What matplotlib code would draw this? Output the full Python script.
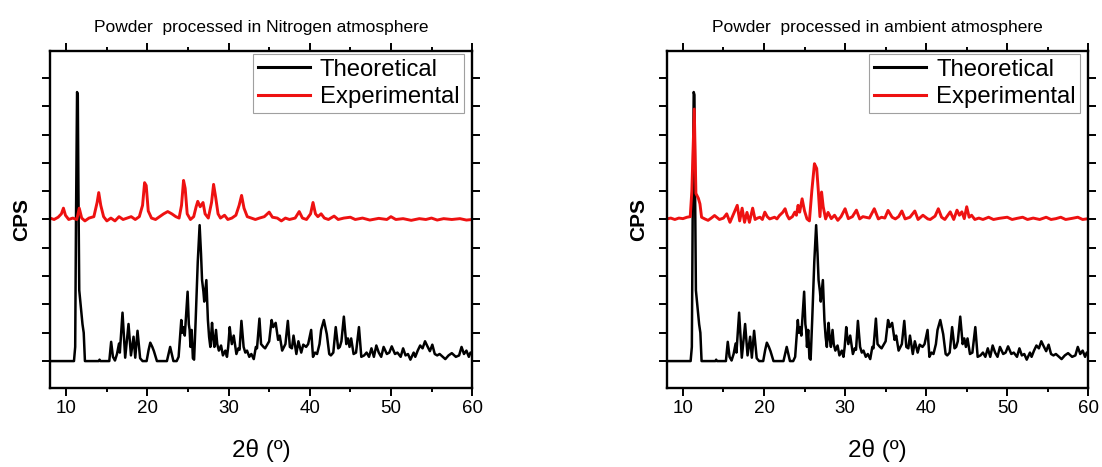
import matplotlib
matplotlib.use("Agg")
import matplotlib.pyplot as plt
import numpy as np
from matplotlib.ticker import MultipleLocator

plt.rcParams["font.family"] = ["Liberation Sans", "DejaVu Sans"]

# theoretical pattern (same in both panels), vertices
theo_x = [8.0, 10.95, 11.1, 11.2, 11.33, 11.42, 11.5, 11.6, 11.8, 12.0, 12.15, 12.3,
          14.0, 14.1, 14.2, 15.3, 15.53, 15.75, 16.0, 16.25, 16.5, 16.6, 16.93, 17.26,
          17.67, 17.97, 18.29, 18.5, 18.78, 19.1, 19.4, 19.9, 20.15, 20.35, 20.6, 20.8,
          21.17, 22.4, 22.8, 23.2, 23.6, 23.84, 24.17, 24.3, 24.46, 24.6, 24.95, 25.1,
          25.2, 25.3, 25.45, 25.6, 25.75, 25.95, 26.2, 26.43, 26.6, 26.73, 26.9, 27.0,
          27.26, 27.45, 27.6, 27.75, 27.96, 28.1, 28.25, 28.45, 28.6, 28.8, 29.07, 29.3,
          29.6, 29.8, 29.95, 30.14, 30.25, 30.4, 30.63, 30.96, 31.2, 31.35, 31.58, 31.85,
          32.06, 32.27, 32.55, 32.8, 33.1, 33.36, 33.5, 33.8, 34.0, 34.3, 34.5, 34.7,
          35.0, 35.3, 35.5, 35.8, 36.1, 36.3, 36.6, 37.0, 37.3, 37.55, 37.8, 38.0,
          38.35, 38.6, 38.95, 39.2, 39.55, 39.8, 40.17, 40.4, 40.65, 40.9, 41.2, 41.4,
          41.74, 42.1, 42.4, 42.6, 42.9, 43.2, 43.5, 43.7, 43.9, 44.2, 44.5, 44.7,
          44.9, 45.1, 45.4, 45.7, 46.06, 46.35, 46.7, 47.0, 47.3, 47.6, 47.9, 48.2,
          48.5, 48.8, 49.1, 49.5, 49.8, 50.1, 50.5, 50.8, 51.2, 51.5, 51.8, 52.1,
          52.4, 52.8, 53.0, 53.3, 53.6, 53.9, 54.2, 54.5, 54.8, 55.1, 55.4, 55.7,
          56.0, 56.4, 56.7, 57.1, 57.5, 58.0, 58.4, 58.7, 59.0, 59.3, 59.6, 59.8, 60.0]
theo_y = [0.0, 0.0, 0.5, 5.0, 9.5, 9.4, 6.0, 2.5, 1.9, 1.3, 1.0, 0.0,
          0.0, 0.05, 0.0, 0.0, 0.68, 0.15, 0.02, 0.25, 0.62, 0.3, 1.71, 0.12,
          1.31, 0.2, 0.86, 0.12, 1.07, 0.1, 0.0, 0.0, 0.4, 0.65, 0.5, 0.35,
          0.0, 0.0, 0.5, 0.0, 0.0, 0.15, 1.45, 1.0, 1.2, 0.9, 2.45, 1.3,
          1.1, 0.5, 1.1, 0.1, 0.05, 1.5, 3.5, 4.8, 3.8, 2.86, 2.45, 2.1,
          2.86, 1.45, 0.85, 0.5, 1.35, 0.8, 0.5, 1.1, 0.6, 0.37, 0.55, 0.2,
          0.37, 0.15, 0.5, 1.2, 0.9, 0.6, 0.9, 0.25, 0.45, 0.4, 1.42, 0.5,
          0.3, 0.37, 0.15, 0.25, 0.07, 0.5, 0.45, 1.5, 0.6, 0.5, 0.45, 0.55,
          0.7, 1.45, 1.2, 1.35, 0.75, 0.9, 0.37, 0.6, 1.42, 0.5, 0.45, 0.9,
          0.25, 0.7, 0.3, 0.58, 0.5, 0.6, 1.1, 0.15, 0.3, 0.25, 0.6, 1.1,
          1.45, 0.95, 0.25, 0.2, 0.3, 1.2, 0.45, 0.5, 0.7, 1.57, 0.6, 0.8,
          0.5, 0.8, 0.25, 0.3, 1.2, 0.15, 0.2, 0.3, 0.15, 0.45, 0.15, 0.55,
          0.3, 0.15, 0.5, 0.25, 0.3, 0.52, 0.25, 0.3, 0.15, 0.45, 0.2, 0.25,
          0.05, 0.3, 0.15, 0.37, 0.55, 0.45, 0.7, 0.52, 0.35, 0.58, 0.25, 0.2,
          0.25, 0.15, 0.07, 0.2, 0.28, 0.15, 0.2, 0.5, 0.25, 0.37, 0.15, 0.3, 0.3]

# experimental, nitrogen atmosphere (height above its baseline)
exp_n2_x = [8.0, 8.5, 9.0, 9.4, 9.65, 9.9, 10.3, 10.8, 11.3, 11.6, 11.9, 12.3, 12.8,
            13.4, 13.8, 14.0, 14.25, 14.6, 15.0, 15.5, 16.0, 16.5, 17.0, 17.5, 18.0,
            18.5, 19.0, 19.4, 19.65, 19.85, 20.1, 20.5, 21.0, 21.5, 22.0, 22.5, 23.0,
            23.5, 23.9, 24.2, 24.45, 24.65, 24.9, 25.3, 25.7, 26.0, 26.2, 26.5, 26.85,
            27.1, 27.5, 27.9, 28.15, 28.4, 28.7, 29.0, 29.5, 29.9, 30.4, 30.9, 31.3,
            31.6, 31.9, 32.3, 32.8, 33.3, 33.8, 34.4, 35.0, 35.4, 36.0, 36.5, 37.0,
            37.5, 38.2, 38.7, 39.1, 39.6, 40.1, 40.4, 40.7, 41.0, 41.4, 41.8, 42.3,
            43.0, 43.5, 44.2, 45.0, 45.6, 46.5, 47.4, 48.5, 49.5, 50.0, 50.6, 51.5,
            52.5, 53.5, 54.3, 55.0, 55.7, 56.5, 57.5, 58.5, 59.3, 60.0]
exp_n2_y = [0.05, 0.0, 0.08, 0.2, 0.4, 0.15, 0.0, 0.05, 0.0, 0.4, 0.05, -0.05, 0.05,
            0.1, 0.6, 0.95, 0.5, 0.1, -0.05, 0.05, -0.05, 0.1, 0.0, 0.05, 0.1,
            0.0, 0.1, 0.5, 1.3, 1.2, 0.3, 0.05, 0.0, 0.1, 0.2, 0.28, 0.2,
            0.1, 0.05, 0.5, 1.38, 1.1, 0.2, 0.0, 0.1, 0.45, 0.64, 0.45, 0.6,
            0.2, 0.05, 0.6, 1.24, 0.8, 0.2, 0.05, 0.15, 0.0, 0.05, 0.15, 0.5,
            0.85, 0.4, 0.1, 0.05, 0.0, 0.05, 0.1, 0.26, 0.08, 0.05, -0.05, 0.05,
            0.0, 0.05, 0.28, 0.05, 0.0, 0.2, 0.6, 0.2, 0.1, 0.2, 0.05, 0.0,
            0.12, 0.0, 0.05, 0.08, 0.0, 0.05, -0.02, 0.04, 0.0, 0.1, 0.0, 0.03,
            -0.03, 0.03, 0.0, 0.05, -0.02, 0.03, 0.0, 0.03, -0.02, 0.0]

# experimental, ambient atmosphere
exp_air_x = [8.0, 8.5, 9.0, 9.5, 10.0, 10.5, 10.9, 11.1, 11.25, 11.4, 11.5, 11.6, 11.9,
             12.1, 12.3, 12.7, 13.1, 13.5, 13.9, 14.5, 15.0, 15.4, 15.8, 16.1, 16.4,
             16.7, 17.0, 17.3, 17.6, 17.9, 18.2, 18.6, 18.9, 19.2, 19.5, 19.8, 20.1,
             20.4, 20.7, 21.0, 21.3, 21.6, 21.9, 22.3, 22.6, 22.85, 23.1, 23.5, 23.8,
             24.0, 24.2, 24.4, 24.7, 25.0, 25.3, 25.6, 25.9, 26.22, 26.5, 26.7, 26.9,
             27.1, 27.3, 27.6, 27.9, 28.3, 28.7, 29.1, 29.5, 30.0, 30.4, 30.9, 31.4,
             31.8, 32.2, 32.5, 33.0, 33.6, 34.1, 34.5, 34.9, 35.3, 35.8, 36.2, 36.6,
             37.0, 37.4, 38.0, 38.6, 39.0, 39.6, 40.2, 40.5, 41.1, 41.5, 41.9, 42.3,
             42.97, 43.4, 43.8, 44.1, 44.4, 44.7, 45.0, 45.3, 45.6, 46.0, 46.5, 47.0,
             47.7, 48.3, 49.0, 50.0, 50.6, 51.2, 51.9, 52.5, 53.2, 54.0, 54.8, 55.4,
             56.0, 56.6, 57.2, 58.0, 58.7, 59.3, 60.0]
exp_air_y = [0.02, 0.05, 0.0, 0.05, 0.03, 0.08, 0.1, 1.0, 2.5, 3.9, 2.5, 0.92, 0.75,
             0.55, 0.08, 0.02, -0.03, 0.05, 0.14, 0.0, 0.05, 0.2, -0.1, 0.1, 0.3,
             0.5, -0.05, 0.4, -0.1, 0.25, -0.1, 0.4, 0.0, 0.05, 0.08, 0.0, 0.26,
             0.1, 0.02, 0.05, 0.08, 0.02, 0.14, 0.25, 0.38, 0.15, 0.02, 0.1, 0.26,
             0.15, 0.5, 0.26, 0.73, 0.3, 0.02, -0.05, 1.02, 1.97, 1.8, 1.0, 0.1,
             0.97, 0.45, 0.02, 0.25, 0.03, 0.15, -0.03, 0.1, 0.38, 0.03, 0.1, 0.33,
             0.02, 0.1, 0.08, 0.05, 0.38, 0.02, 0.08, 0.05, 0.32, 0.08, 0.02, 0.1,
             0.3, 0.02, 0.08, 0.3, 0.0, 0.15, 0.02, 0.0, 0.12, 0.38, 0.08, 0.0,
             0.27, 0.0, 0.33, 0.15, 0.27, 0.03, 0.45, 0.08, 0.15, 0.0, 0.05, 0.0,
             0.08, 0.0, 0.04, 0.08, 0.0, 0.04, 0.08, 0.0, 0.05, 0.0, 0.08, 0.0,
             0.03, 0.08, 0.0, 0.04, 0.08, 0.0, 0.03]

exp_offset = 5.0
titles = ["Powder  processed in Nitrogen atmosphere",
          "Powder  processed in ambient atmosphere"]
experiments = [(exp_n2_x, exp_n2_y), (exp_air_x, exp_air_y)]

fig = plt.figure(figsize=(11.02, 4.67), dpi=100)
axes = [fig.add_axes([0.0454, 0.1692, 0.383, 0.7216]),
        fig.add_axes([0.605, 0.1692, 0.3826, 0.7216])]

for ax, title, (ex, ey) in zip(axes, titles, experiments):
    ax.plot(theo_x, theo_y, color="black", lw=1.8, label="Theoretical")
    ax.plot(ex, np.array(ey) + exp_offset, color="#ee1111", lw=2.1, label="Experimental")
    ax.set_xlim(8, 60)
    ax.set_ylim(-0.95, 10.95)
    ax.xaxis.set_major_locator(MultipleLocator(10))
    ax.xaxis.set_minor_locator(MultipleLocator(5))
    ax.yaxis.set_major_locator(MultipleLocator(1))
    ax.tick_params(which="both", direction="out", top=True, right=True,
                   width=1.4, labelsize=13.5, labelleft=False, pad=3)
    ax.tick_params(which="major", length=5.5)
    ax.tick_params(which="minor", length=3)
    for s in ax.spines.values():
        s.set_linewidth(1.7)
    ax.set_title(title, fontsize=12.5, pad=14)
    ax.set_ylabel("CPS", fontsize=15, fontweight="bold")
    ax.yaxis.set_label_coords(-0.045, 0.5)
    ax.set_xlabel("2θ (º)", fontsize=17.5)
    ax.xaxis.set_label_coords(0.5, -0.152)
    leg = ax.legend(loc="upper right", bbox_to_anchor=(0.988, 1.0), fontsize=17.2,
                    frameon=True, fancybox=False, borderaxespad=0.12, borderpad=0.2,
                    handlelength=2.2, handletextpad=0.4, labelspacing=0.22)
    leg.get_frame().set_edgecolor("#888888")
    leg.get_frame().set_linewidth(0.8)
    for line in leg.get_lines():
        line.set_linewidth(2.2)

fig.savefig("out.png", dpi=100)
